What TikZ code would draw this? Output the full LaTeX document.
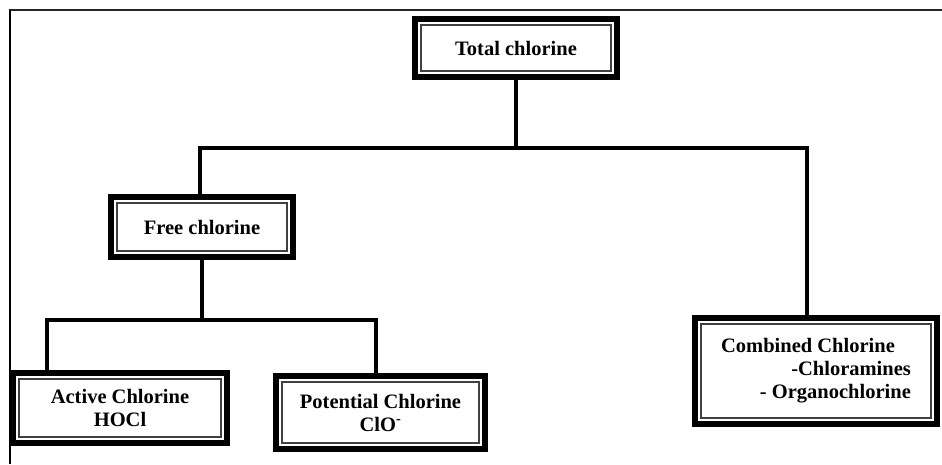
\documentclass[tikz,border=0pt]{standalone}
\usepackage{fontspec}
\setmainfont{Liberation Serif}
\begin{document}
\begin{tikzpicture}[x=1pt,y=-1pt,
  cbox/.style={draw=black, line width=6pt, fill=white, inner sep=0pt, align=center,
    font=\bfseries\fontsize{20.5}{23}\selectfont,
    path picture={\draw[black!75, line width=2pt]
      ([xshift=6pt,yshift=-6pt]path picture bounding box.north west) rectangle
      ([xshift=-6pt,yshift=6pt]path picture bounding box.south east);}},
  conn/.style={draw=black, line width=4pt},
  frame/.style={draw=black, line width=2.5pt}]
\useasboundingbox (0,0) rectangle (942,464);
\fill[white] (0,0) rectangle (942,464);
% outer frame (top and left only)
\draw[frame, black!85] (8.75,10) -- (942,10);
\draw[frame] (10,10) -- (10,464);
% connectors
\coordinate (j1) at (516,148);
\coordinate (jl) at (200,148);
\coordinate (jr) at (807,148);
\coordinate (k1) at (202,320);
\coordinate (kl) at (47,320);
\coordinate (kr) at (376,320);
% boxes
\node[cbox, minimum width=202pt, minimum height=58pt] (total) at (516,48) {Total chlorine};
\node[cbox, minimum width=182pt, minimum height=60pt] (free) at (202,227) {Free chlorine};
\node[cbox, minimum width=214pt, minimum height=70pt] (active) at (120,408) {Active Chlorine\\HOCl};
\node[cbox, minimum width=209pt, minimum height=73pt] (potential) at (380.5,412.5) {Potential Chlorine\\ClO\textsuperscript{-}};
\node[cbox, minimum width=242pt, minimum height=106pt, align=right] (comb) at (816,371) {Combined Chlorine\hspace*{16pt}\\-Chloramines\\- Organochlorine};
\draw[conn] (total.south) -- (j1);
\draw[conn] (jl |- free.north) -- (jl) -- (jr) -- (jr |- comb.north);
\draw[conn] (free.south) -- (k1);
\draw[conn] (kl |- active.north) -- (kl) -- (kr) -- (kr |- potential.north);
\end{tikzpicture}
\end{document}
